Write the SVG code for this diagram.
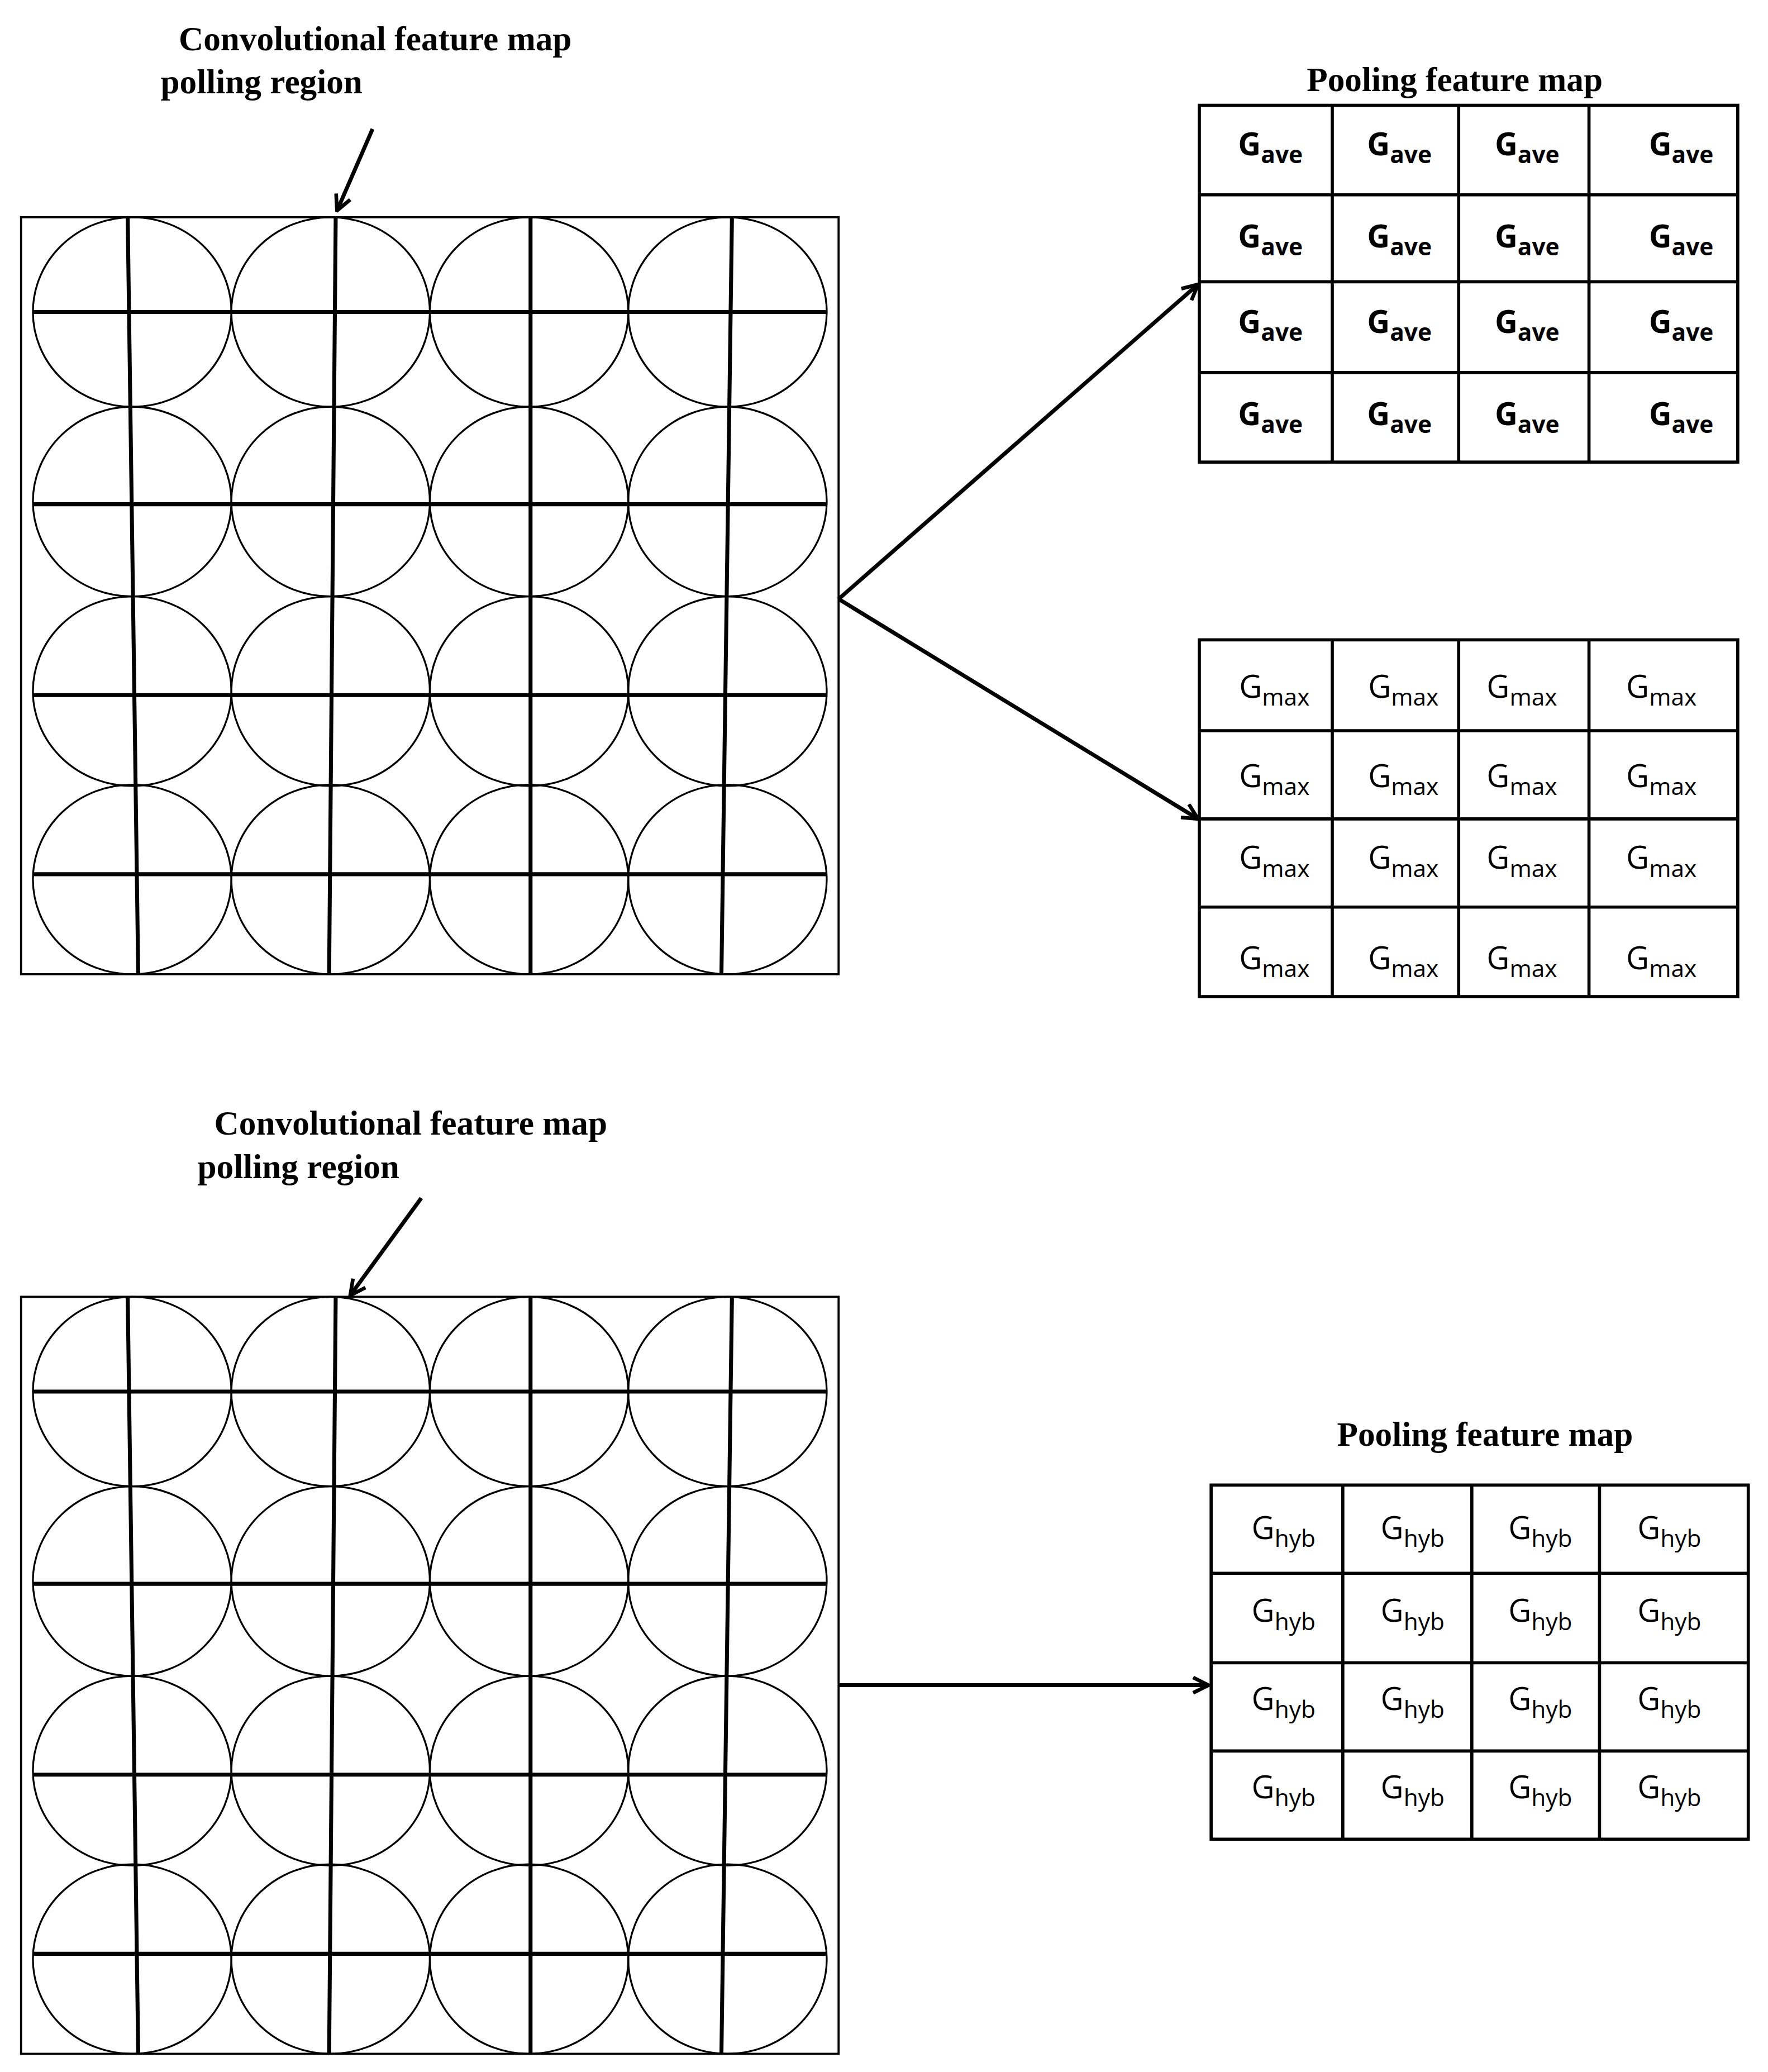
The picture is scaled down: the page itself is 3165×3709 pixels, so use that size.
<svg xmlns="http://www.w3.org/2000/svg" width="3165" height="3709" viewBox="0 0 3165 3709">
<style>
.ttl{font-family:"Liberation Serif",serif;font-weight:bold;font-size:26px;fill:#000}
.box{fill:none;stroke:#000;stroke-width:1.6}
.c{fill:none;stroke:#000;stroke-width:1.4}
.ln{stroke:#000;stroke-width:3;fill:none}
.cell{fill:#fff;stroke:#000;stroke-width:2.4}
.g{font-family:"Open Sans","Liberation Sans",sans-serif;font-size:24px;fill:#000;text-anchor:middle}
.b{font-weight:bold}
.sub{font-size:18px}
.arr{stroke:#000;stroke-width:3;fill:none;marker-end:url(#ah)}
</style>
<defs>
<marker id="ah" viewBox="0 0 12 12" refX="11" refY="6" markerWidth="14" markerHeight="14" orient="auto" markerUnits="userSpaceOnUse"><path d="M1,1 L11,6 L1,11" fill="none" stroke="#000" stroke-width="2.4"/></marker>
<g id="circ">
<ellipse class="c" cx="100.4" cy="72" rx="75.4" ry="72"/><ellipse class="c" cx="251.1" cy="72" rx="75.4" ry="72"/><ellipse class="c" cx="401.9" cy="72" rx="75.4" ry="72"/><ellipse class="c" cx="552.6" cy="72" rx="75.4" ry="72"/>
<ellipse class="c" cx="100.4" cy="216" rx="75.4" ry="72"/><ellipse class="c" cx="251.1" cy="216" rx="75.4" ry="72"/><ellipse class="c" cx="401.9" cy="216" rx="75.4" ry="72"/><ellipse class="c" cx="552.6" cy="216" rx="75.4" ry="72"/>
<ellipse class="c" cx="100.4" cy="360" rx="75.4" ry="72"/><ellipse class="c" cx="251.1" cy="360" rx="75.4" ry="72"/><ellipse class="c" cx="401.9" cy="360" rx="75.4" ry="72"/><ellipse class="c" cx="552.6" cy="360" rx="75.4" ry="72"/>
<ellipse class="c" cx="100.4" cy="503" rx="75.4" ry="72"/><ellipse class="c" cx="251.1" cy="503" rx="75.4" ry="72"/><ellipse class="c" cx="401.9" cy="503" rx="75.4" ry="72"/><ellipse class="c" cx="552.6" cy="503" rx="75.4" ry="72"/>
<rect class="box" x="16" y="0" width="621" height="575"/>
<path class="ln" d="M25,72H628M25,218H628M25,363H628M25,499H628M97,0L105,575M255,0L250,575M403,0L403,575M556,0L548,575"/>
</g>
</defs>
<g transform="scale(2.3567)">
<g id="map1">
<text class="ttl" x="285" y="38" text-anchor="middle">Convolutional feature map</text>
<text class="ttl" x="122" y="71">polling region</text>
<use href="#circ" transform="translate(0,165)"/>
</g>
<g id="map2">
<text class="ttl" x="312" y="862" text-anchor="middle">Convolutional feature map</text>
<text class="ttl" x="150" y="895">polling region</text>
<use href="#circ" transform="translate(0,985)"/>
</g>
<g id="ave">
<text class="ttl" x="1105" y="69" text-anchor="middle">Pooling feature map</text>
<rect class="cell" x="911" y="80" width="409" height="271"/>
<path class="cell" d="M911,148H1320M911,214H1320M911,283H1320M1012,80V351M1108,80V351M1207,80V351"/>
<g class="g b">
<text x="965" y="118">G<tspan class="sub" dy="6">ave</tspan></text><text x="1063" y="118">G<tspan class="sub" dy="6">ave</tspan></text><text x="1160" y="118">G<tspan class="sub" dy="6">ave</tspan></text><text x="1277" y="118">G<tspan class="sub" dy="6">ave</tspan></text>
<text x="965" y="188">G<tspan class="sub" dy="6">ave</tspan></text><text x="1063" y="188">G<tspan class="sub" dy="6">ave</tspan></text><text x="1160" y="188">G<tspan class="sub" dy="6">ave</tspan></text><text x="1277" y="188">G<tspan class="sub" dy="6">ave</tspan></text>
<text x="965" y="253">G<tspan class="sub" dy="6">ave</tspan></text><text x="1063" y="253">G<tspan class="sub" dy="6">ave</tspan></text><text x="1160" y="253">G<tspan class="sub" dy="6">ave</tspan></text><text x="1277" y="253">G<tspan class="sub" dy="6">ave</tspan></text>
<text x="965" y="323">G<tspan class="sub" dy="6">ave</tspan></text><text x="1063" y="323">G<tspan class="sub" dy="6">ave</tspan></text><text x="1160" y="323">G<tspan class="sub" dy="6">ave</tspan></text><text x="1277" y="323">G<tspan class="sub" dy="6">ave</tspan></text>
</g>
</g>
<g id="max">
<rect class="cell" x="911" y="486" width="409" height="271"/>
<path class="cell" d="M911,555H1320M911,622H1320M911,689H1320M1012,486V757M1108,486V757M1207,486V757"/>
<g class="g">
<text x="968" y="530">G<tspan class="sub" dy="6">max</tspan></text><text x="1066" y="530">G<tspan class="sub" dy="6">max</tspan></text><text x="1156" y="530">G<tspan class="sub" dy="6">max</tspan></text><text x="1262" y="530">G<tspan class="sub" dy="6">max</tspan></text>
<text x="968" y="598">G<tspan class="sub" dy="6">max</tspan></text><text x="1066" y="598">G<tspan class="sub" dy="6">max</tspan></text><text x="1156" y="598">G<tspan class="sub" dy="6">max</tspan></text><text x="1262" y="598">G<tspan class="sub" dy="6">max</tspan></text>
<text x="968" y="660">G<tspan class="sub" dy="6">max</tspan></text><text x="1066" y="660">G<tspan class="sub" dy="6">max</tspan></text><text x="1156" y="660">G<tspan class="sub" dy="6">max</tspan></text><text x="1262" y="660">G<tspan class="sub" dy="6">max</tspan></text>
<text x="968" y="736">G<tspan class="sub" dy="6">max</tspan></text><text x="1066" y="736">G<tspan class="sub" dy="6">max</tspan></text><text x="1156" y="736">G<tspan class="sub" dy="6">max</tspan></text><text x="1262" y="736">G<tspan class="sub" dy="6">max</tspan></text>
</g>
</g>
<g id="hyb">
<text class="ttl" x="1128" y="1098" text-anchor="middle">Pooling feature map</text>
<rect class="cell" x="920" y="1128" width="408" height="269"/>
<path class="cell" d="M920,1195H1328M920,1263H1328M920,1330H1328M1020,1128V1397M1118,1128V1397M1215,1128V1397"/>
<g class="g">
<text x="975" y="1169">G<tspan class="sub" dy="6">hyb</tspan></text><text x="1073" y="1169">G<tspan class="sub" dy="6">hyb</tspan></text><text x="1170" y="1169">G<tspan class="sub" dy="6">hyb</tspan></text><text x="1268" y="1169">G<tspan class="sub" dy="6">hyb</tspan></text>
<text x="975" y="1232">G<tspan class="sub" dy="6">hyb</tspan></text><text x="1073" y="1232">G<tspan class="sub" dy="6">hyb</tspan></text><text x="1170" y="1232">G<tspan class="sub" dy="6">hyb</tspan></text><text x="1268" y="1232">G<tspan class="sub" dy="6">hyb</tspan></text>
<text x="975" y="1299">G<tspan class="sub" dy="6">hyb</tspan></text><text x="1073" y="1299">G<tspan class="sub" dy="6">hyb</tspan></text><text x="1170" y="1299">G<tspan class="sub" dy="6">hyb</tspan></text><text x="1268" y="1299">G<tspan class="sub" dy="6">hyb</tspan></text>
<text x="975" y="1366">G<tspan class="sub" dy="6">hyb</tspan></text><text x="1073" y="1366">G<tspan class="sub" dy="6">hyb</tspan></text><text x="1170" y="1366">G<tspan class="sub" dy="6">hyb</tspan></text><text x="1268" y="1366">G<tspan class="sub" dy="6">hyb</tspan></text>
</g>
</g>
<g id="connectors">
<path class="arr" d="M283,98L256,160"/>
<path class="arr" d="M637,455L910,216"/>
<path class="arr" d="M637,455L910,622"/>
<path class="arr" d="M320,910L266,984"/>
<path class="arr" d="M637,1280L918,1280"/>
</g>
</g>
</svg>
